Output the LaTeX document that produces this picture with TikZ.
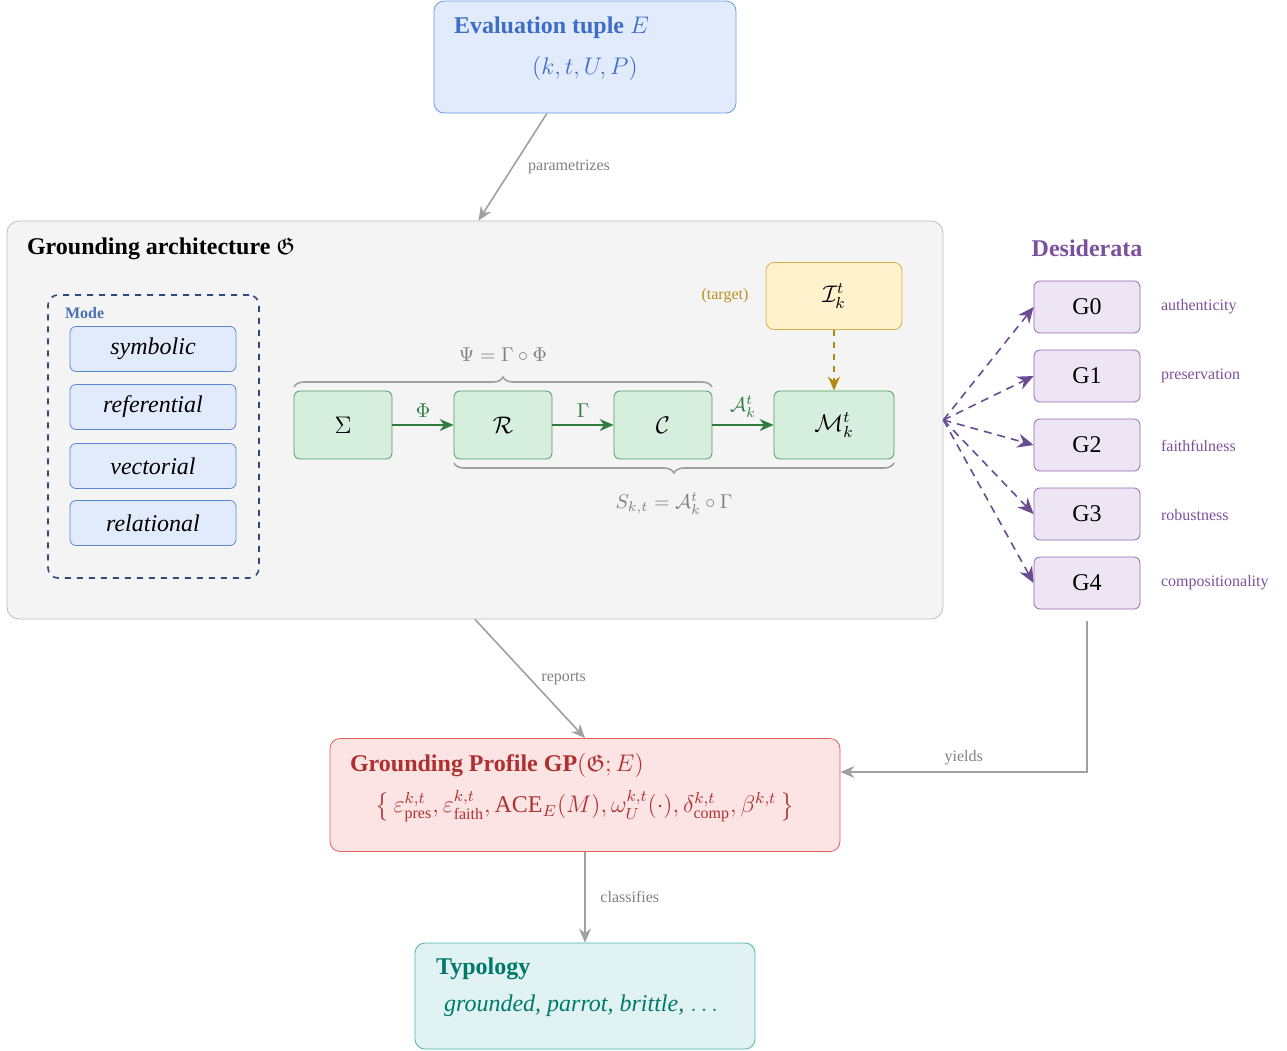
\documentclass[tikz,border=0pt]{standalone}
\usepackage[no-math]{fontspec}
\setmainfont{Liberation Serif}
\usepackage{amsmath,amssymb}
\usetikzlibrary{arrows.meta,decorations.pathreplacing}

\definecolor{evalfill}{HTML}{E1EBFC}
\definecolor{evaldraw}{HTML}{6A9BE8}
\definecolor{evaltext}{HTML}{3D6DC4}
\definecolor{archfill}{HTML}{F4F4F4}
\definecolor{archdraw}{HTML}{BDBDBD}
\definecolor{modedraw}{HTML}{2F4A7F}
\definecolor{modetext}{HTML}{4A6FB5}
\definecolor{modefill}{HTML}{E1EBFC}
\definecolor{modeline}{HTML}{5A86D6}
\definecolor{pipefill}{HTML}{D6EEDD}
\definecolor{pipedraw}{HTML}{4A9E5C}
\definecolor{pipearrow}{HTML}{2E7D3E}
\definecolor{tgtfill}{HTML}{FFF2CC}
\definecolor{tgtdraw}{HTML}{D6B04A}
\definecolor{tgttext}{HTML}{B8901E}
\definecolor{tgtarrow}{HTML}{B08A10}
\definecolor{desfill}{HTML}{EEE5F4}
\definecolor{desdraw}{HTML}{8E6BB0}
\definecolor{destext}{HTML}{7B519E}
\definecolor{desarrow}{HTML}{6A4C93}
\definecolor{gpfill}{HTML}{FCE4E4}
\definecolor{gpdraw}{HTML}{E06060}
\definecolor{gptext}{HTML}{B03030}
\definecolor{typfill}{HTML}{E0F2F1}
\definecolor{typdraw}{HTML}{4DB6AC}
\definecolor{typtext}{HTML}{00796B}
\definecolor{flowgray}{HTML}{A0A0A0}

\tikzset{
  flowarrow/.style={draw=flowgray, thick, -{Stealth[length=7pt,width=6pt]}},
  flowlabel/.style={font=\footnotesize, text=gray},
  modeitem/.style={draw=modeline, fill=modefill, rounded corners=3pt,
    minimum width=83pt, minimum height=22.5pt, font=\large\itshape},
  pipebox/.style={draw=pipedraw, fill=pipefill, rounded corners=3pt,
    minimum width=49pt, minimum height=34pt, font=\large},
  pipearr/.style={draw=pipearrow, thick, -{Stealth[length=7pt,width=6pt]}},
  pipelabel/.style={text=pipearrow, above, font=\normalsize},
  desbox/.style={draw=desdraw, fill=desfill, rounded corners=3pt,
    minimum width=53pt, minimum height=26pt, font=\large},
  deslabel/.style={anchor=west, text=destext, font=\footnotesize},
  desarr/.style={draw=desarrow, thick, dash pattern=on 4pt off 3pt,
    -{Stealth[length=8pt,width=7pt]}},
  bracegray/.style={draw=flowgray, thick, decorate,
    decoration={brace, amplitude=5pt}}
}

\begin{document}
\begin{tikzpicture}[x=0.5pt,y=-0.5pt]
\useasboundingbox (0,0) rectangle (1287,1051);

% evaluation tuple
\node[draw=evaldraw, fill=evalfill, rounded corners=5pt,
  minimum width=151pt, minimum height=56pt] (eval) at (585,57) {};
\node[anchor=west, text=evaltext, font=\large\bfseries] (evaltitle) at (447,28) {Evaluation tuple $E$};
\node[text=evaltext, font=\large] (evaltuple) at (585,68) {$(k,t,U,P)$};

% grounding architecture
\node[draw=archdraw, fill=archfill, rounded corners=6pt,
  minimum width=468pt, minimum height=199pt] (arch) at (475,420) {};
\node[anchor=west, font=\large\bfseries] (archtitle) at (20,249) {Grounding architecture $\mathfrak{G}$};

% modes
\node[draw=modedraw, thick, dashed, rounded corners=5pt,
  minimum width=105.5pt, minimum height=141.5pt] (mode) at (153.5,436.5) {};
\node[anchor=west, text=modetext, font=\footnotesize\bfseries] (modetitle) at (58,313) {Mode};
\node[modeitem] (symb) at (153,349) {symbolic};
\node[modeitem] (refe) at (153,407) {referential};
\node[modeitem] (vect) at (153,466) {vectorial};
\node[modeitem] (rela) at (153,523) {relational};

% pipeline
\node[pipebox] (sig) at (343,425) {$\Sigma$};
\node[pipebox] (rep) at (503,425) {$\mathcal{R}$};
\node[pipebox] (con) at (663,425) {$\mathcal{C}$};
\node[pipebox, minimum width=60pt] (mk) at (834,425) {$\mathcal{M}_k^t$};
\draw[pipearr] (sig) -- node[pipelabel] {$\Phi$} (rep);
\draw[pipearr] (rep) -- node[pipelabel] {$\Gamma$} (con);
\draw[pipearr] (con) -- node[pipelabel] {$\mathcal{A}_k^t$} (mk);

% braces
\draw[bracegray] (294,387) -- node[above=9pt, text=gray] (psi) {$\Psi=\Gamma\circ\Phi$} (712,387);
\draw[bracegray] (894,463) -- node[below=11pt, text=gray] (skt) {$S_{k,t}=\mathcal{A}_k^t\circ\Gamma$} (454,463);

% target
\node[draw=tgtdraw, fill=tgtfill, rounded corners=4pt,
  minimum width=68pt, minimum height=33.5pt, font=\large] (tgt) at (834,296) {$\mathcal{I}_k^t$};
\node[text=tgttext, font=\footnotesize] (tgtlabel) at (725,296) {(target)};
\draw[draw=tgtarrow, thick, dashed, -{Stealth[length=7pt,width=6pt]}] (tgt) -- (mk);

% desiderata
\node[text=destext, font=\large\bfseries] (destitle) at (1087,248) {Desiderata};
\node[desbox] (g0) at (1087,307) {G0};
\node[desbox] (g1) at (1087,376) {G1};
\node[desbox] (g2) at (1087,445) {G2};
\node[desbox] (g3) at (1087,514) {G3};
\node[desbox] (g4) at (1087,583) {G4};
\node[deslabel] (l0) at (1154,307) {authenticity};
\node[deslabel] (l1) at (1154,376) {preservation};
\node[deslabel] (l2) at (1154,446) {faithfulness};
\node[deslabel] (l3) at (1154,515) {robustness};
\node[deslabel] (l4) at (1154,583) {compositionality};
\foreach \g in {g0,g1,g2,g3,g4}
  \draw[desarr] (arch.east) -- (\g.west);

% grounding profile
\node[draw=gpdraw, fill=gpfill, rounded corners=5pt,
  minimum width=255pt, minimum height=56.5pt] (gp) at (585,795) {};
\node[anchor=west, text=gptext, font=\large] (gptitle) at (343,765) {\textbf{Grounding Profile GP}$(\mathfrak{G};E)$};
\node[text=gptext, font=\large] (gpset) at (585,806)
  {$\bigl\{\,\varepsilon^{k,t}_{\text{pres}},\varepsilon^{k,t}_{\text{faith}},\text{ACE}_E(M),\omega^{k,t}_U(\cdot),\delta^{k,t}_{\text{comp}},\beta^{k,t}\,\bigr\}$};

% typology
\node[draw=typdraw, fill=typfill, rounded corners=5pt,
  minimum width=170pt, minimum height=53pt] (typ) at (585,996) {};
\node[anchor=west, text=typtext, font=\large\bfseries] (typtitle) at (429,969) {Typology};
\node[text=typtext, font=\large\itshape] (typlist) at (583,1006) {grounded, parrot, brittle, $\dots$};

% flow
\draw[flowarrow] (eval.236) -- node[flowlabel, right=4pt] {parametrizes} (arch.89);
\draw[flowarrow] (arch.south) -- node[flowlabel, right=2pt] {reports} (gp.north);
\draw[flowarrow] (gp.south) -- node[flowlabel, right=4pt] {classifies} (typ.north);
\draw[flowarrow, shorten <=6pt] (g4.south) |- node[flowlabel, pos=0.75, above] {yields} ([yshift=11.5pt]gp.east);
\end{tikzpicture}
\end{document}
